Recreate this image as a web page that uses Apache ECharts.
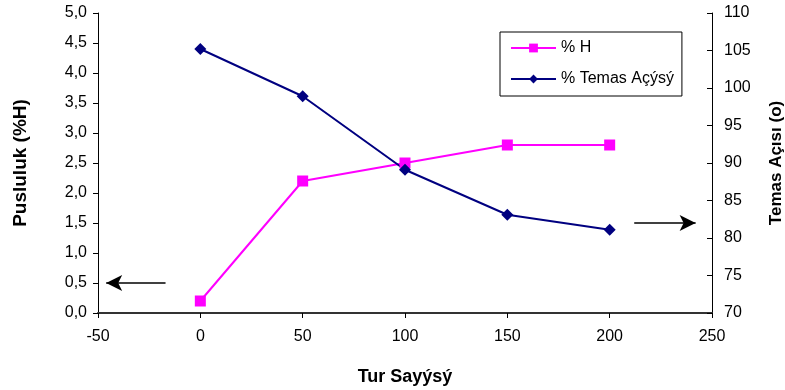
<!DOCTYPE html>
<html><head><meta charset="utf-8">
<script src="https://cdn.jsdelivr.net/npm/echarts@6/dist/echarts.min.js"></script>
<style>html,body{margin:0;padding:0;background:#fff}#c{width:785px;height:390px}</style>
</head><body><div id="c"></div>
<script>
const turSayisi = [0, 50, 100, 150, 200];
const pusluluk = [0.2, 2.2, 2.5, 2.8, 2.8];
const temasAcisi = [105.2, 98.9, 89.1, 83.1, 81.1];
const leftArrow = [[-17, 0.5], [-46, 0.5]];
const rightArrow = [[212, 82], [242, 82]];

const font = 'Liberation Sans, Arial, sans-serif';
const chart = echarts.init(document.getElementById('c'), null, {renderer: 'canvas'});
chart.setOption({
  animation: false,
  backgroundColor: '#fff',
  grid: {left: 98, right: 73, top: 13, bottom: 77, containLabel: false, outerBoundsMode: 'none'},
  legend: {
    orient: 'vertical', left: 500, top: 32,
    borderColor: '#000', borderWidth: 1, padding: [8, 8, 9, 10],
    itemWidth: 45, itemHeight: 11, itemGap: 15,
    textStyle: {fontFamily: font, fontSize: 16, color: '#000'},
    data: ['% H', '% Temas Açýsý']
  },
  xAxis: {
    type: 'value', min: -50, max: 250, interval: 50,
    name: 'Tur Sayýsý', nameLocation: 'middle', nameGap: 55,
    nameTextStyle: {fontFamily: font, fontSize: 18, fontWeight: 'bold', color: '#000'},
    axisLine: {lineStyle: {color: '#333', width: 2}},
    axisTick: {length: 5, lineStyle: {color: '#000'}},
    axisLabel: {fontFamily: font, fontSize: 16, color: '#000', margin: 16},
    splitLine: {show: false}
  },
  yAxis: [{
    type: 'value', min: 0, max: 5, interval: 0.5, position: 'left',
    name: 'Pusluluk (%H)', nameLocation: 'middle', nameGap: 68, nameRotate: 90,
    nameTextStyle: {fontFamily: font, fontSize: 19, fontWeight: 'bold', color: '#000'},
    axisLine: {show: true, onZero: false, lineStyle: {color: '#000', width: 1}},
    axisTick: {show: true, length: 5, lineStyle: {color: '#000'}},
    axisLabel: {fontFamily: font, fontSize: 16, color: '#000', margin: 11,
      formatter: v => v.toFixed(1).replace('.', ',')},
    splitLine: {show: false}
  }, {
    type: 'value', min: 70, max: 110, interval: 5, position: 'right',
    name: 'Temas Açısı (o)', nameLocation: 'middle', nameGap: 56, nameRotate: 90,
    nameTextStyle: {fontFamily: font, fontSize: 17, fontWeight: 'bold', color: '#000'},
    axisLine: {show: true, onZero: false, lineStyle: {color: '#000', width: 1}},
    axisTick: {show: true, length: 5, inside: true, lineStyle: {color: '#000'}},
    axisLabel: {fontFamily: font, fontSize: 16, color: '#000', margin: 12},
    splitLine: {show: false}
  }],
  series: [{
    name: '% H', type: 'line', yAxisIndex: 0,
    data: turSayisi.map((x, i) => [x, pusluluk[i]]),
    symbol: 'rect', symbolSize: 11,
    lineStyle: {color: '#ff00ff', width: 2},
    itemStyle: {color: '#ff00ff'},
    markLine: {
      silent: true, symbol: ['none', 'arrow'], symbolSize: [12, 16],
      lineStyle: {color: '#000', width: 1.5, type: 'solid'}, label: {show: false},
      data: [[{coord: leftArrow[0]}, {coord: leftArrow[1]}]]
    }
  }, {
    name: '% Temas Açýsý', type: 'line', yAxisIndex: 1,
    data: turSayisi.map((x, i) => [x, temasAcisi[i]]),
    symbol: 'diamond', symbolSize: 12,
    lineStyle: {color: '#000080', width: 2},
    itemStyle: {color: '#000080'},
    markLine: {
      silent: true, symbol: ['none', 'arrow'], symbolSize: [12, 16],
      lineStyle: {color: '#000', width: 1.5, type: 'solid'}, label: {show: false},
      data: [[{coord: rightArrow[0]}, {coord: rightArrow[1]}]]
    }
  }]
});
</script></body></html>
